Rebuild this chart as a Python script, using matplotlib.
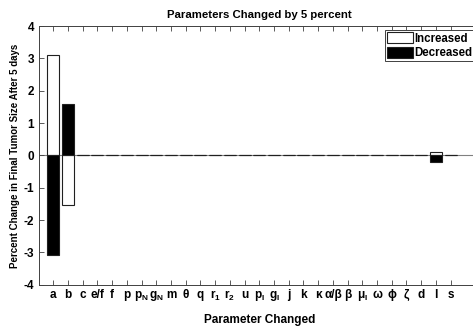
import matplotlib
matplotlib.use("Agg")
import matplotlib.pyplot as plt
from matplotlib.patches import Patch

plt.rcParams['font.family'] = ['Liberation Sans', 'DejaVu Sans']
plt.rcParams['font.weight'] = 'bold'
plt.rcParams['mathtext.fontset'] = 'custom'
plt.rcParams['mathtext.rm'] = 'Liberation Sans:bold'
plt.rcParams['mathtext.it'] = 'Liberation Sans:bold'
plt.rcParams['mathtext.bf'] = 'Liberation Sans:bold'
plt.rcParams['mathtext.sf'] = 'Liberation Sans:bold'

# Sensitivity parameters and tick labels
params = ['a', 'b', 'c', 'e/f', 'f', 'p', r'$p_N$', r'$g_N$', 'm', 'θ', 'q',
          r'$r_1$', r'$r_2$', 'u', r'$p_I$', r'$g_I$', 'j', 'k', 'κ', 'α/β',
          'β', r'$μ_I$', 'ω', 'ϕ', 'ζ', 'd', 'l', 's']

# Percent change in final tumor size when each parameter is raised / lowered by 5%
increased = [3.10, -1.53, 0, 0, 0, 0, 0, 0, 0, 0, 0, 0, 0, 0, 0, 0, 0, 0,
             0, 0, 0, 0, 0, 0, 0, 0, 0.12, 0]
decreased = [-3.08, 1.60, 0, 0, 0, 0, 0, 0, 0, 0, 0, 0, 0, 0, 0, 0, 0, 0,
             0, 0, 0, 0, 0, 0, 0, 0, -0.21, 0]

x = list(range(1, len(params) + 1))

fig = plt.figure(figsize=(4.73, 3.31), dpi=100)
ax = fig.add_axes([0.0814, 0.140, 0.9336, 0.781])

ax.axhline(0, color='#808080', lw=0.8, zorder=1)
ax.bar(x, increased, width=0.82, color='white', edgecolor='#202020',
       linewidth=0.8, zorder=2, label='Increased')
ax.bar(x, decreased, width=0.82, color='black', edgecolor='#202020',
       linewidth=0.8, zorder=2, label='Decreased')

ax.set_xlim(0, 30)
ax.set_ylim(-4, 4)
ax.set_xticks(x)
ax.set_xticklabels(params, fontsize=8.5, fontweight='bold')
ax.set_yticks(range(-4, 5))
ax.set_yticklabels([str(v) for v in range(-4, 5)], fontsize=8.5, fontweight='bold')
ax.tick_params(direction='in', length=3.5, width=0.6, color='#404040',
               top=True, right=True, pad=3)
for s in ax.spines.values():
    s.set_color('#404040')
    s.set_linewidth(0.7)

ax.set_title('Parameters Changed by 5 percent', fontsize=8.2, fontweight='bold', pad=6)
ax.set_xlabel('Parameter Changed', fontsize=8.5, fontweight='bold', labelpad=8)
ax.set_ylabel('Percent Change in Final Tumor Size After 5 days', fontsize=7,
              fontweight='bold', labelpad=3)

handles = [Patch(facecolor='white', edgecolor='#202020', linewidth=0.8),
           Patch(facecolor='black', edgecolor='#202020', linewidth=0.8)]
leg = ax.legend(handles, ['Increased', 'Decreased'], loc='upper left',
                bbox_to_anchor=(0.785, 0.985), fontsize=8.3, frameon=True,
                fancybox=False, edgecolor='#404040', framealpha=1,
                handlelength=2.2, handleheight=1.1, handletextpad=0.15,
                borderpad=0.2, labelspacing=0.15, borderaxespad=0)
leg.get_frame().set_linewidth(0.7)
for t in leg.get_texts():
    t.set_fontweight('bold')

fig.savefig('out.png', dpi=100)
